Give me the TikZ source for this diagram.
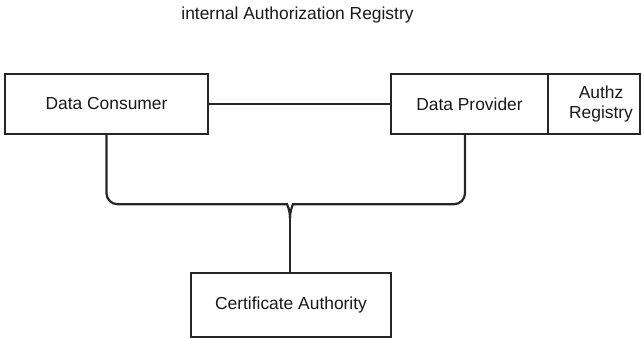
\documentclass[tikz,border=0pt]{standalone}
\usepackage{fontspec}
\setmainfont{Liberation Sans}
\usepackage{tikz}
\usetikzlibrary{positioning}

\tikzset{
	unit/.style={draw=black!85,line width=1.6pt,rectangle,inner sep=0pt,minimum height=60pt},
	conn/.style={draw=black!85,line width=2.2pt},
	lbl/.style={font=\fontsize{17.4}{20.5}\selectfont,align=center,text=black!90}
}

\begin{document}
\begin{tikzpicture}[x=1pt,y=1pt]
	\useasboundingbox (0,0) rectangle (644,339);
	\node[lbl] (title) at (297.5,324) {internal Authorization Registry};
	\node[unit,minimum width=203pt,lbl] (consumer) at (106.5,235) {Data Consumer};
	\node[unit,minimum width=157pt,lbl] (provider) at (469.5,235) {Data Provider};
	\node[unit,minimum width=92pt] (authz) at (594,235) {};
	\node[lbl] (authzlabel) at (601,235) {Authz\\Registry};
	\node[unit,minimum width=200pt,minimum height=64pt,lbl] (ca) at (291,34) {Certificate Authority};
	\coordinate (bus) at ([xshift=-1pt,yshift=68pt]ca.north);
	\coordinate (join) at ([xshift=-1pt,yshift=54pt]ca.north);
	\draw[conn] (consumer.east) -- (provider.west);
	\draw[conn] (consumer.south) [rounded corners=11pt] |- ([xshift=-14pt]bus) [sharp corners] .. controls ([xshift=-3pt]bus) and ([yshift=8pt]join) .. (join);
	\draw[conn] ([xshift=-4.5pt]provider.south) [rounded corners=11pt] |- ([xshift=14pt]bus) [sharp corners] .. controls ([xshift=3pt]bus) and ([yshift=8pt]join) .. (join);
	\draw[conn] (join) -- ([xshift=-1pt]ca.north);
\end{tikzpicture}
\end{document}
